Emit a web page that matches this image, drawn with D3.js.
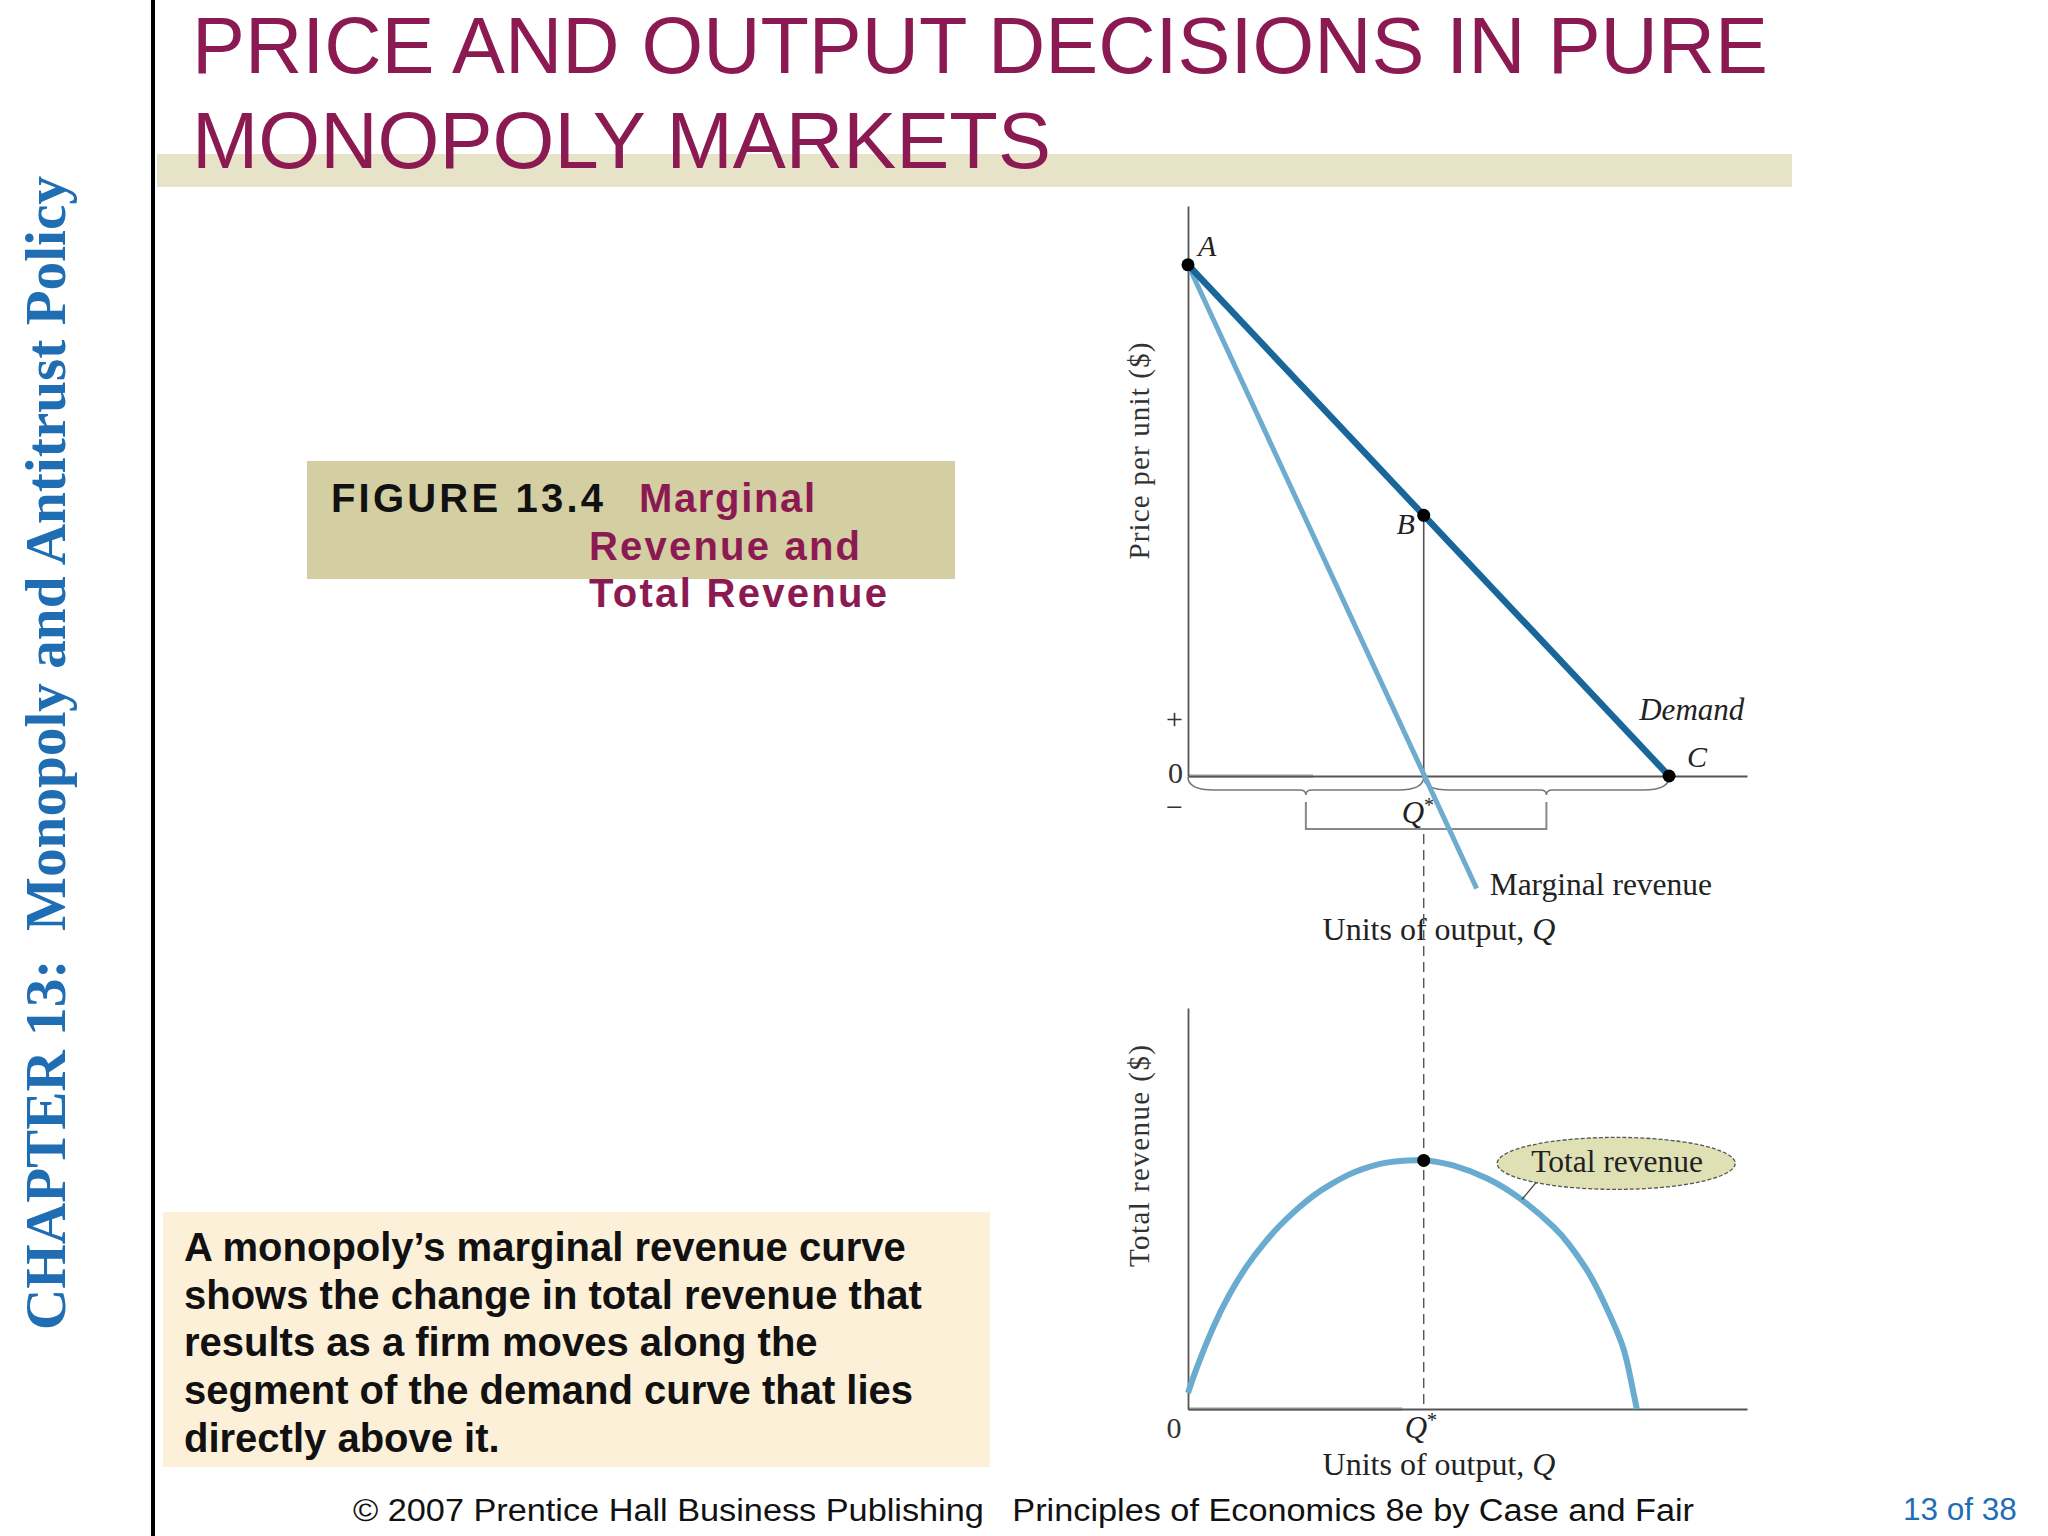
<!DOCTYPE html>
<html>
<head>
<meta charset="utf-8">
<script src="https://cdn.jsdelivr.net/npm/d3@7"></script>
<style>
  html, body { margin: 0; padding: 0; background: #ffffff; }
  svg { display: block; }
</style>
</head>
<body>
<svg id="chart" width="2048" height="1536"></svg>
<script>
// ---------------- DATA ----------------
const titleLines = ["PRICE AND OUTPUT DECISIONS IN PURE", "MONOPOLY MARKETS"];
const sideTitle = "CHAPTER 13:  Monopoly and Antitrust Policy";
const figureNumber = "FIGURE 13.4";
const figureTitleLines = ["Marginal", "Revenue and", "Total Revenue"];
const bodyLines = [
  "A monopoly\u2019s marginal revenue curve",
  "shows the change in total revenue that",
  "results as a firm moves along the",
  "segment of the demand curve that lies",
  "directly above it."
];
const footerText = "\u00A9 2007 Prentice Hall Business Publishing   Principles of Economics 8e by Case and Fair";
const pageText = "13 of 38";

// Top panel: price per unit vs quantity
const demandQ = [0, 10];
const demandP = [10, 0];
const mrQ = [0, 6.0];
const mrP = [10, -2.2];
const pointLabels = ["A", "B", "C"];
const pointQ = [0, 4.9, 10];
const pointP = [10, 5.1, 0];
const qStar = 4.9;
const priceTickValues = [1.05, 0, -0.68];
const priceTickLabels = ["+", "0", "\u2212"];

// Bottom panel: total revenue vs quantity
const trQ = [0, 0.19, 0.52, 0.87, 1.23, 1.56, 1.91, 2.27, 2.60, 2.95, 3.31, 3.64, 3.99, 4.35, 4.9,
             5.51, 6.22, 6.90, 7.59, 7.94, 8.30, 8.63, 8.98, 9.15, 9.33];
const trValues = [1.6, 4.2, 8.1, 11.5, 14.3, 16.4, 18.3, 19.95, 21.25, 22.35, 23.3, 23.95, 24.45, 24.72, 24.8,
                  24.3, 23.0, 21.0, 18.2, 16.3, 13.8, 10.8, 7.0, 4.2, 0];
const trPeak = 24.8;
const trCalloutAnchorQ = 6.94;
const trCalloutAnchorTR = 20.9;
const trCalloutQ = 8.9;
const trCalloutTR = 24.5;

// ---------------- SETUP ----------------
const svg = d3.select("#chart");
const SERIF = "'Liberation Serif', 'DejaVu Serif', serif";
const SANS = "'Liberation Sans', Arial, sans-serif";
const MAROON = "#8c1a52";
const BLUE = "#1f6db3";

// Slide decoration
svg.append("rect").attr("x", 157).attr("y", 154).attr("width", 1635).attr("height", 33).attr("fill", "#e7e3c9");
svg.append("rect").attr("x", 151).attr("y", 0).attr("width", 4).attr("height", 1536).attr("fill", "#000");

// Title
svg.append("g").selectAll("text").data(titleLines).join("text")
  .attr("x", 192)
  .attr("y", (d, i) => 73 + i * 95)
  .attr("textLength", (d, i) => i === 0 ? 1576 : 859)
  .attr("lengthAdjust", "spacingAndGlyphs")
  .attr("font-family", SANS).attr("font-size", 79).attr("fill", MAROON)
  .text(d => d);

// Side title
svg.append("text")
  .attr("transform", "translate(65,1330) rotate(-90)")
  .attr("textLength", 1154).attr("lengthAdjust", "spacingAndGlyphs")
  .attr("font-family", SERIF).attr("font-weight", "bold").attr("font-size", 58)
  .attr("fill", BLUE)
  .style("white-space", "pre")
  .text(sideTitle);

// Figure label box
svg.append("rect").attr("x", 307).attr("y", 461).attr("width", 648).attr("height", 118).attr("fill", "#d4cea3");
svg.append("text").attr("x", 331).attr("y", 512)
  .attr("font-family", SANS).attr("font-weight", "bold").attr("font-size", 40)
  .attr("textLength", 272).attr("lengthAdjust", "spacing")
  .attr("fill", "#111").text(figureNumber);
svg.append("g").selectAll("text").data(figureTitleLines).join("text")
  .attr("x", (d, i) => i === 0 ? 639 : 589)
  .attr("y", (d, i) => 512 + i * 47.5)
  .attr("textLength", (d, i) => [176, 271, 298][i]).attr("lengthAdjust", "spacing")
  .attr("font-family", SANS).attr("font-weight", "bold").attr("font-size", 40)
  .attr("fill", MAROON).text(d => d);

// Body text box
svg.append("rect").attr("x", 163).attr("y", 1212).attr("width", 827).attr("height", 255).attr("fill", "#fdf0d9");
svg.append("g").selectAll("text").data(bodyLines).join("text")
  .attr("x", 184)
  .attr("y", (d, i) => 1261 + i * 47.7)
  .attr("font-family", SANS).attr("font-weight", "bold").attr("font-size", 40)
  .attr("fill", "#111").text(d => d);

// Footer
svg.append("text").attr("x", 353).attr("y", 1521)
  .attr("font-family", SANS).attr("font-size", 31).attr("fill", "#111")
  .attr("textLength", 1341).attr("lengthAdjust", "spacingAndGlyphs")
  .style("white-space", "pre")
  .text(footerText);
svg.append("text").attr("x", 1903).attr("y", 1520)
  .attr("font-family", SANS).attr("font-size", 31.5).attr("fill", BLUE)
  .text(pageText);

// ---------------- SCALES ----------------
const x = d3.scaleLinear().domain([0, 11.62]).range([1188, 1747]);
const yTop = d3.scaleLinear().domain([0, 11.15]).range([776, 206]);
const yBot = d3.scaleLinear().domain([0, 40]).range([1409, 1008]);

const AXIS_COLOR = "#555";

// ---------------- TOP PANEL ----------------
const topG = svg.append("g");

topG.append("line").attr("x1", x(0)).attr("x2", x(2.6)).attr("y1", yTop(0)).attr("y2", yTop(0))
  .attr("stroke", "#c9c9c9").attr("stroke-width", 4);

const xAxisTop = topG.append("g").attr("transform", `translate(0,${yTop(0)})`)
  .call(d3.axisBottom(x).tickValues([]).tickSizeOuter(0));
xAxisTop.select(".domain").attr("stroke", AXIS_COLOR).attr("stroke-width", 1.8);

const yAxisTop = topG.append("g").attr("transform", `translate(${x(0)},0)`)
  .call(d3.axisLeft(yTop).tickValues(priceTickValues).tickSize(0).tickPadding(5)
        .tickFormat((d, i) => priceTickLabels[i]));
yAxisTop.select(".domain").attr("stroke", AXIS_COLOR).attr("stroke-width", 1.8);
yAxisTop.selectAll("text").attr("font-family", SERIF).attr("font-size", 30).attr("fill", "#333")
  .attr("dy", "0.2em");

// Braces under the axis
function bracePath(q0, q1) {
  const x0 = x(q0), x1 = x(q1), xm = (x0 + x1) / 2;
  const yA = yTop(0) + 1, yB = yTop(0) + 14, r = 26;
  const p = d3.path();
  p.moveTo(x0, yA);
  p.quadraticCurveTo(x0, yB, x0 + r, yB);
  p.lineTo(xm - 6, yB);
  p.quadraticCurveTo(xm, yB, xm, yB + 5);
  p.quadraticCurveTo(xm, yB, xm + 6, yB);
  p.lineTo(x1 - r, yB);
  p.quadraticCurveTo(x1, yB, x1, yA);
  return p.toString();
}
topG.append("path").attr("d", bracePath(0, qStar)).attr("fill", "none").attr("stroke", "#777").attr("stroke-width", 1.6);
topG.append("path").attr("d", bracePath(qStar, demandQ[1])).attr("fill", "none").attr("stroke", "#777").attr("stroke-width", 1.6);
{
  const xa = x(qStar / 2), xb = x((qStar + demandQ[1]) / 2);
  const y1 = yTop(0) + 26, y2 = yTop(0) + 53;
  topG.append("path").attr("d", `M${xa},${y1}V${y2}H${xb}V${y1}`)
    .attr("fill", "none").attr("stroke", "#888").attr("stroke-width", 2);
}

// vertical solid from B to axis
topG.append("line").attr("x1", x(qStar)).attr("x2", x(qStar))
  .attr("y1", yTop(pointP[1])).attr("y2", yTop(0))
  .attr("stroke", "#555").attr("stroke-width", 1.6);

// Lines
const lineTop = d3.line().x(d => x(d[0])).y(d => yTop(d[1]));
topG.append("path").datum(mrQ.map((q, i) => [q, mrP[i]]))
  .attr("d", lineTop).attr("fill", "none").attr("stroke", "#6eaccf").attr("stroke-width", 5);
topG.append("path").datum(demandQ.map((q, i) => [q, demandP[i]]))
  .attr("d", lineTop).attr("fill", "none").attr("stroke", "#19679a").attr("stroke-width", 6.5);

// Points
topG.append("g").selectAll("circle").data(pointQ).join("circle")
  .attr("cx", d => x(d)).attr("cy", (d, i) => yTop(pointP[i])).attr("r", 6.5).attr("fill", "#000");

// Point labels
const labelOffsets = [[10, -9, "start"], [-9, 19, "end"], [18, -9, "start"]];
topG.append("g").selectAll("text").data(pointLabels).join("text")
  .attr("x", (d, i) => x(pointQ[i]) + labelOffsets[i][0])
  .attr("y", (d, i) => yTop(pointP[i]) + labelOffsets[i][1])
  .attr("text-anchor", (d, i) => labelOffsets[i][2])
  .attr("font-family", SERIF).attr("font-style", "italic").attr("font-size", 30).attr("fill", "#222")
  .text(d => d);

// Demand label
topG.append("text").attr("x", x(9.38)).attr("y", yTop(1.1))
  .attr("font-family", SERIF).attr("font-style", "italic").attr("font-size", 31).attr("fill", "#222")
  .text("Demand");

// MR label
topG.append("text").attr("x", x(mrQ[1]) + 13).attr("y", yTop(mrP[1]) + 7)
  .attr("font-family", SERIF).attr("font-size", 31.5).attr("fill", "#222")
  .text("Marginal revenue");

// Q* label (top)
const qsTop = topG.append("text").attr("x", x(qStar) - 22).attr("y", yTop(0) + 47)
  .attr("font-family", SERIF).attr("font-size", 31).attr("fill", "#222");
qsTop.append("tspan").attr("font-style", "italic").text("Q");
qsTop.append("tspan").attr("font-size", 20).attr("dy", -11).text("*");

// X label (top)
const xlTop = topG.append("text").attr("x", 1439).attr("y", 940).attr("text-anchor", "middle")
  .attr("font-family", SERIF).attr("font-size", 32).attr("fill", "#222");
xlTop.append("tspan").text("Units of output, ");
xlTop.append("tspan").attr("font-style", "italic").text("Q");

// Y label (top)
topG.append("text").attr("transform", `translate(1149,${451}) rotate(-90)`)
  .attr("text-anchor", "middle").attr("font-family", SERIF).attr("font-size", 29)
  .attr("textLength", 217).attr("lengthAdjust", "spacing")
  .attr("fill", "#333").text("Price per unit ($)");

// dashed line linking panels
svg.append("line").attr("x1", x(qStar)).attr("x2", x(qStar))
  .attr("y1", yTop(0) + 58).attr("y2", yBot(0))
  .attr("stroke", "#555").attr("stroke-width", 1.4).attr("stroke-dasharray", "10,6");

// ---------------- BOTTOM PANEL ----------------
const botG = svg.append("g");
botG.append("line").attr("x1", x(0)).attr("x2", x(4.45)).attr("y1", yBot(0)).attr("y2", yBot(0))
  .attr("stroke", "#c9c9c9").attr("stroke-width", 4);

const xAxisBot = botG.append("g").attr("transform", `translate(0,${yBot(0)})`)
  .call(d3.axisBottom(x).tickValues([]).tickSizeOuter(0));
xAxisBot.select(".domain").attr("stroke", AXIS_COLOR).attr("stroke-width", 1.8);
const yAxisBot = botG.append("g").attr("transform", `translate(${x(0)},0)`)
  .call(d3.axisLeft(yBot).tickValues([]).tickSizeOuter(0));
yAxisBot.select(".domain").attr("stroke", AXIS_COLOR).attr("stroke-width", 1.8);

// TR curve
const lineBot = d3.line().x(d => x(d[0])).y(d => yBot(d[1])).curve(d3.curveNatural);
botG.append("path").datum(trQ.map((q, i) => [q, trValues[i]]))
  .attr("d", lineBot).attr("fill", "none").attr("stroke", "#6aaccf").attr("stroke-width", 6);
botG.append("circle").attr("cx", x(qStar)).attr("cy", yBot(trPeak)).attr("r", 6.5).attr("fill", "#000");

// Callout
const calloutX = x(trCalloutQ), calloutY = yBot(trCalloutTR);
botG.append("line").attr("x1", x(trCalloutAnchorQ)).attr("y1", yBot(trCalloutAnchorTR))
  .attr("x2", calloutX - 80).attr("y2", calloutY + 19)
  .attr("stroke", "#444").attr("stroke-width", 1.3);
botG.append("ellipse").attr("cx", calloutX).attr("cy", calloutY).attr("rx", 119).attr("ry", 26)
  .attr("fill", "#dfe1b5").attr("stroke", "#555").attr("stroke-width", 1.3).attr("stroke-dasharray", "4,2");
botG.append("text").attr("x", calloutX + 1).attr("y", calloutY + 9).attr("text-anchor", "middle")
  .attr("font-family", SERIF).attr("font-size", 31.5).attr("fill", "#222").text("Total revenue");

// Bottom tick labels
botG.append("text").attr("x", x(0) - 14).attr("y", 1438).attr("text-anchor", "middle")
  .attr("font-family", SERIF).attr("font-size", 30).attr("fill", "#333").text("0");
const qsBot = botG.append("text").attr("x", x(qStar) - 19).attr("y", 1438)
  .attr("font-family", SERIF).attr("font-size", 31).attr("fill", "#222");
qsBot.append("tspan").attr("font-style", "italic").text("Q");
qsBot.append("tspan").attr("font-size", 20).attr("dy", -11).text("*");

const xlBot = botG.append("text").attr("x", 1439).attr("y", 1475).attr("text-anchor", "middle")
  .attr("font-family", SERIF).attr("font-size", 32).attr("fill", "#222");
xlBot.append("tspan").text("Units of output, ");
xlBot.append("tspan").attr("font-style", "italic").text("Q");

botG.append("text").attr("transform", `translate(1149,${1156}) rotate(-90)`)
  .attr("text-anchor", "middle").attr("font-family", SERIF).attr("font-size", 29)
  .attr("textLength", 222).attr("lengthAdjust", "spacing")
  .attr("fill", "#333").text("Total revenue ($)");
</script>
</body>
</html>
